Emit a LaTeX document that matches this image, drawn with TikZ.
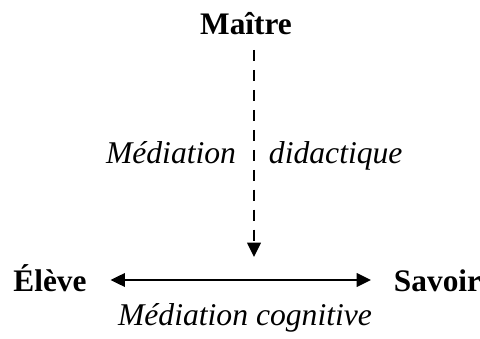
\documentclass[tikz,border=0pt]{standalone}
\usepackage{fontspec}
\setmainfont{Liberation Serif}
\usetikzlibrary{arrows.meta}
\tikzset{
	pole/.style={font=\fontsize{22.3}{27}\selectfont\bfseries, inner sep=0pt},
	legende/.style={font=\fontsize{22.5}{27}\selectfont\itshape, inner sep=0pt},
}
\begin{document}
\begin{tikzpicture}[line width=1.4pt, >={Triangle[length=0.36cm,width=0.34cm]}]
		\useasboundingbox (0,0) rectangle (12,8.45);
		\node[pole, anchor=base] (maitre) at (6.15,7.575) {Maître};
		\node[pole, anchor=base] (eleve) at (1.25,1.175) {Élève};
		\node[pole, anchor=base west] (savoir) at (9.825,1.175) {Savoir};
		\node[legende, anchor=base east] (med) at (5.925,4.375) {Médiation};
		\node[legende, anchor=base west] (did) at (6.7,4.375) {didactique};
		\node[legende, anchor=base] (cog) at (6.125,0.325) {Médiation cognitive};
		\coordinate (haut) at (6.35,7.2);
		\coordinate (bas) at (6.35,2.025);
		\draw[->, dash pattern=on 7.8pt off 6.4pt] (haut) -- (bas);
		\draw[<->] ([shift={(0.575,0.275)}]eleve.base east) -- ([shift={(-0.55,0.275)}]savoir.base west);
\end{tikzpicture}
\end{document}
